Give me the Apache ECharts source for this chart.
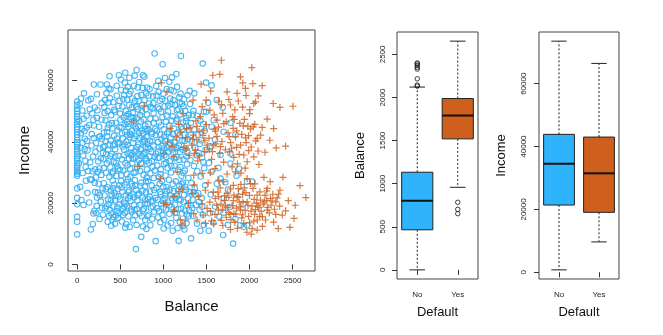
<!DOCTYPE html>
<html><head><meta charset="utf-8">
<script src="https://cdn.jsdelivr.net/npm/echarts@6/dist/echarts.min.js"></script>
<style>html,body{margin:0;padding:0;background:#fff}#c{width:663px;height:335px}</style>
</head><body><div id="c"></div>
<script>
// ---- data ----
const balanceTicks = [0, 500, 1000, 1500, 2000, 2500];
const incomeTicks = [0, 20000, 40000, 60000];
const defaultCategories = ['No', 'Yes'];

// scatter: non-defaulters [balance, income]
const noDefaultPoints = [
[0,9800],[0,13900],[0,15500],[0,19600],[0,21700],[0,24800],[0,28900],[0,29500],[0,30100],[0,30800],[0,31500],[0,32200],[0,33000],[0,33800],[0,34500],[0,35300],[0,36000],[0,36800],[0,37500],[0,38300],[0,39100],[0,39800],[0,40600],[0,41400],[0,42300],[0,43100],[0,44000],[0,44800],[0,45700],[0,46500],[0,47400],[0,48200],[0,49100],[0,50000],[0,50800],[0,52000],[0,53100],
[30,52400],[45,54100],[60,50200],[80,55800],[25,46800],[55,44200],[90,41000],[40,38000],[70,35500],[20,33000],[100,31800],[65,29800],[110,48500],[130,53500],[140,45500],[120,37200],[95,33800],[50,21000],[74,19400],[35,25300],[120,23300],[150,27800],[140,20200],[85,43500],[115,40300],[130,30500],
[159,11400],[182,13200],[190,16600],[201,17500],[221,16800],[209,23600],[240,23400],[194,58700],[271,58700],[160,54000],[175,49300],[205,51200],[230,47800],[255,44900],[170,42500],[220,39600],[260,37800],[185,35200],[245,33600],[210,31000],[280,29200],[265,41800],[195,45300],[285,52600],[230,55500],[250,26300],[275,20500],[290,18400],[230,21800],[260,14800],[295,24800],[170,27600],
[345,58700],[368,57400],[376,61400],[484,61700],[326,18300],[422,15500],[340,55800],[380,54200],[420,52900],[460,55000],[315,51300],[355,50000],[395,48700],[440,49800],[480,51700],[330,47000],[370,45600],[410,44300],[450,46200],[490,44800],[310,43000],[350,41700],[390,40400],[430,42000],[470,39800],[320,38600],[360,37300],[400,36000],[440,37600],[480,35400],[305,34300],[345,33000],[385,31700],[425,33500],[465,32000],[335,29900],[375,28600],[415,30300],[455,28900],[495,30800],[310,26500],[350,25200],[390,24000],[430,26000],[470,24600],[320,22500],[360,21200],[400,22800],[440,20900],[480,22200],[340,19000],[380,17800],[420,18900],[460,17400],[490,19600],[370,15800],[410,14600],[450,16000],[395,12600],[440,13300],[475,15200],[355,13900],[488,25800],[412,27400],[378,39100],[462,41100],[300,36400],[492,53300],[330,40200],
[508,60300],[558,62500],[690,63400],[589,57900],[558,12000],[682,5000],[510,57000],[545,55200],[580,53700],[620,56500],[660,58300],[700,54900],[525,51500],[565,50100],[605,52000],[645,49500],[685,51400],[540,47900],[580,46400],[620,48100],[660,46800],[695,47800],[515,44600],[555,43200],[595,44900],[635,43600],[675,45000],[530,41100],[570,40000],[610,41500],[650,39700],[690,41900],[545,37500],[585,36200],[625,38000],[665,36700],[700,38300],[520,34200],[560,33000],[600,34500],[640,33100],[680,34900],[535,30600],[575,29400],[615,31200],[655,29800],[695,31600],[510,27200],[550,26000],[590,27800],[630,26300],[670,27500],[525,23700],[565,22500],[605,24200],[645,22800],[685,24400],[540,20200],[580,19000],[620,20700],[660,19300],[700,20900],[555,16900],[595,15700],[635,17300],[675,16000],[520,14000],[570,13100],[610,12300],[650,14400],[690,12900],[598,45800],[612,42700],[587,39000],[628,35600],[572,48500],[641,54100],[555,59300],[606,60900],[668,61600],[533,18100],[593,21600],[674,25700],
[705,57700],[764,61700],[779,61200],[744,9000],[720,59500],[760,57600],[800,55800],[840,57200],[880,54800],[715,53300],[755,52000],[795,50600],[835,52500],[875,50900],[730,48700],[770,47300],[810,48900],[850,47500],[890,46200],[710,45000],[750,43600],[790,45300],[830,43900],[870,42600],[725,41200],[765,39900],[805,41600],[845,40300],[885,38800],[740,37600],[780,36400],[820,38100],[860,36800],[900,35100],[715,34100],[755,32800],[795,34600],[835,33200],[875,31800],[730,30500],[770,29200],[810,31000],[850,29700],[890,28200],[745,26700],[785,25400],[825,27100],[865,25800],[720,23100],[760,21800],[800,23500],[840,22100],[880,20800],[735,19400],[775,18200],[815,19900],[855,18500],[895,17200],[750,15700],[790,14500],[830,16200],[870,14900],[765,12400],[805,11600],[850,12800],[899,68800],[790,44100],[752,49900],[818,39300],[787,21100],[828,55100],[770,40800],[803,33800],
[942,59900],[992,65300],[946,56300],[911,7600],[1004,11700],[920,55100],[960,53400],[1000,55700],[1040,57200],[1080,54100],[935,51200],[975,49800],[1015,51500],[1055,49900],[1095,52300],[910,47600],[950,46300],[990,48000],[1030,46500],[1070,45200],[925,43600],[965,42300],[1005,44100],[1045,42700],[1085,41400],[940,39900],[980,38600],[1020,40300],[1060,38900],[1100,37500],[915,36100],[955,34800],[995,36500],[1035,35100],[1075,33700],[930,32300],[970,31000],[1010,32800],[1050,31400],[1090,30000],[945,28500],[985,27200],[1025,29000],[1065,27600],[920,24900],[960,23600],[1000,25300],[1040,23900],[1080,22500],[935,21100],[975,19800],[1015,21600],[1055,20200],[1095,18800],[950,17400],[990,16100],[1030,17900],[1070,16500],[965,13800],[1010,14600],[1050,12700],[1090,13500],[1109,11000],[1020,60800],[1070,59600],
[1151,62100],[1101,61000],[1205,68000],[1186,54500],[1178,7700],[1120,56500],[1160,57900],[1200,55700],[1240,53900],[1280,55200],[1135,52000],[1175,50600],[1215,52400],[1255,50100],[1295,48700],[1110,48300],[1150,46900],[1190,48800],[1230,46300],[1270,44900],[1125,44300],[1165,42900],[1205,44800],[1245,42300],[1285,40800],[1140,40100],[1180,38700],[1220,40400],[1260,37900],[1115,36400],[1155,35000],[1195,36700],[1235,34200],[1275,32700],[1130,32200],[1170,30900],[1210,28900],[1250,30600],[1290,28200],[1145,27100],[1185,25700],[1225,26700],[1265,24400],[1120,23900],[1160,22400],[1200,20900],[1240,22700],[1280,19300],[1135,19500],[1175,18000],[1215,16600],[1255,17500],[1295,15700],[1150,15200],[1190,13900],[1230,12500],[1270,13400],[1165,11800],[1322,8500],[1245,11400],
[1306,56600],[1360,55800],[1457,65500],[1496,59300],[1310,52300],[1350,50100],[1390,48500],[1430,46900],[1470,49800],[1320,46100],[1360,44000],[1400,42300],[1440,40500],[1480,43600],[1330,40200],[1370,38100],[1410,36400],[1450,34900],[1490,37300],[1315,34000],[1355,32100],[1395,30400],[1435,28700],[1475,31400],[1325,26600],[1365,24900],[1405,23300],[1445,21700],[1485,25800],[1340,21100],[1380,19400],[1420,17800],[1460,16200],[1300,17700],[1345,15900],[1390,13300],[1430,11000],[1470,12900],[1496,49800],[1461,45800],
[1527,11000],[1585,47100],[1663,35700],[1779,36200],[1663,28000],[1558,30200],[1779,32900],[1837,42400],[1779,46200],[1690,51200],[1849,28900],[1973,27000],[1903,23700],[1779,18800],[1837,14800],[1895,12800],[1934,12300],[1973,12800],[1694,9600],[1810,6800],[1520,52700],[1560,44900],[1540,38600],[1600,40700],[1530,33100],[1620,26300],[1550,22800],[1600,18900],[1650,15600],[1540,16700],[1580,13700],[1700,21500],[1720,26800],[1620,53600],[1700,43300],[1750,24400],[1880,31200],[1930,19700],[1560,58400],[1640,31500],[1750,12900],[1700,16900],[2031,27000],
[212,36700],[287,40900],[318,49400],[363,52800],[402,46100],[437,39300],[468,43700],[503,47200],[528,38400],[561,45700],[597,49100],[622,42300],[653,47800],[684,44300],[712,39100],[738,46600],[767,42800],[793,38200],[826,45800],[858,43100],[887,49400],[913,42100],[947,38200],[973,45300],[1008,41700],[1038,48600],[1067,43200],[1096,46900],[1127,39800],[1162,47500],[1193,42100],[1227,37400],[1263,46700],[1297,43900],
[243,30200],[276,34600],[309,31400],[337,36100],[371,33900],[408,29700],[443,35300],[476,31200],[512,29100],[547,35700],[583,32300],[617,28600],[648,34400],[679,30100],[709,36200],[741,33100],[772,35900],[808,28300],[839,35200],[868,33700],[902,30600],[937,34700],[968,29400],[1003,37800],[1033,33200],[1062,36800],[1093,32100],[1128,34600],[1167,37900],[1198,31800],[1232,29800],[1266,35300],
[226,19100],[262,22600],[298,16200],[331,24600],[366,19700],[397,16700],[433,23300],[467,18600],[499,21300],[531,16100],[563,19800],[591,23700],[627,17900],[661,21900],[694,18100],[723,16600],[758,24100],[786,19700],[817,15700],[846,23800],[877,18900],[906,21700],[941,15300],[971,22900],[1002,18500],[1036,25200],[1068,19300],[1103,21600],[1137,16900],[1171,24100],[1204,18200],[1238,20300],[1272,16300],[1303,23600],[1336,18400],[1374,22800],[1412,20400],[1452,18800],
[283,47200],[324,53600],[356,44600],[388,57100],[431,50400],[459,58300],[497,49200],[536,53900],[567,56700],[603,55600],[638,51300],[672,53400],[707,50600],[746,55300],[781,53600],[813,57700],[852,51400],[884,52600],[918,58200],[952,50700],[988,53900],[1022,53400],[1058,51800],[1087,56900],[1118,53600],[1157,50300],[1192,52700],[1233,51600],[1268,47800],[1342,48900],
[392,20900],[418,24900],[447,22400],[479,16700],[516,25100],[548,18900],[572,26800],[613,22300],[641,25500],[668,17800],[703,22600],[733,25600],[762,17600],[797,27100],[824,21300],[862,20600],[893,24300],[927,18300],[958,26400],[994,20900],[1027,22800],[1074,24300],[1109,26200],[1142,21700],[1183,21300],[1213,26100],[1252,25300],[1287,21500],[1318,19400],[1353,23600],
[218,28400],[253,41500],[302,38300],[347,43200],[386,35200],[418,38800],[451,33100],[486,39400],[519,42800],[551,39100],[582,42200],[619,36400],[657,41100],[688,37100],[719,42900],[749,35400],[784,40300],[812,43600],[843,37700],[873,40100],[907,44200],[938,36800],[979,40800],[1012,35700],[1043,38100],[1079,39600],[1112,42500],[1146,38300],[1187,34100],[1219,44100],[1248,40300],[1281,36600],[1318,42200],[1383,35600],[1423,39300],[1463,33400],
[152,33300],[168,38800],[188,47200],[205,26600],[236,50300],[258,31300],[192,41200],[178,30400],[147,50600],[112,44700],[88,37600],[62,39700],[75,47500],[102,27300],[43,42800]
];

// scatter: defaulters [balance, income]
const defaultPoints = [
[1674,66600],[2027,64200],[1574,61700],[1655,62000],[1438,58800],[1550,56500],[1922,59200],[1895,61200],[1953,57400],[2039,59000],[2147,58300],[1740,56300],[1856,55800],[1043,56300],[977,59200],[1345,53600],[1496,53600],[1643,53300],[1779,52000],[2050,52500],[2070,53000],[2275,52500],[2353,51200],[2504,51600],[2004,50500],[2205,47400],[1981,45100],[2147,44700],[2043,44900],[1888,46000],[1605,43500],[1469,43800],[1624,47100],[1430,48200],[1806,48200],[2419,38600],[2236,40500],[2089,41100],[1961,39700],[1837,41600],[1508,38900],[1372,37300],[1101,38400],[1120,35100],[1004,36200],[1364,36200],[1585,38900],[1663,38400],[1818,34900],[1934,35700],[2050,35100],[1973,33500],[1798,31800],[1837,30200],[1450,29700],[1547,29900],[1353,29100],[1643,27500],[1973,28000],[2012,26400],[2167,28400],[2388,28400],[2585,25700],[2654,21800],
[2353,24200],[2205,24800],[2128,21000],[2244,21500],[2306,20400],[2089,22600],[1973,20400],[1856,22100],[1740,23200],[1643,22100],[1488,24200],[1333,23200],[1120,22100],[1004,19900],[2419,17500],[2516,15000],[2469,12100],[2333,11700],[2186,14500],[2050,14100],[2031,11700],[2020,9900],[2089,11200],[1934,13400],[1779,11400],[1585,13200],[1488,13400],[1391,14500],[1256,14500],[1217,12800],[1120,17200],[1353,16600],[1508,18300],[1818,16600],[1895,17700],[2070,17900],[2205,17700],
[1310,44500],[1350,42200],[1390,40600],[1420,35300],[1460,42100],[1500,45600],[1530,41200],[1570,36800],[1610,39300],[1640,44800],[1680,40100],[1720,37400],[1750,42900],[1780,39700],[1810,44400],[1850,38200],[1880,35900],[1910,42400],[1940,47300],[1990,42000],[2020,38300],[2060,45700],[2100,37000],[2130,42200],[1540,50300],[1590,48800],[1690,49300],[1730,46500],[1760,53800],[1830,50400],[1870,53300],[1920,51300],[1960,55100],[2000,49200],[2100,55000],[1450,51500],[1390,45000],[1270,44300],[1230,49200],[1180,45700],[1270,37700],[1330,38900],[1400,33800],[1480,36800],[1560,34300],[1600,31300],[1700,33400],[1740,29500],[1770,36700],[1860,32800],[1900,29800],[1950,31400],[2110,32600],[2180,36600],[2280,44300],[2310,38000],[1990,37100],
[1540,20300],[1580,23600],[1620,19300],[1660,25000],[1690,18000],[1710,20900],[1730,15400],[1760,21900],[1780,24600],[1800,19200],[1830,13700],[1850,18400],[1870,24700],[1880,20400],[1910,15200],[1920,22900],[1950,17700],[1990,15700],[2000,22500],[2030,19000],[2040,24800],[2060,16300],[2080,20000],[2110,18600],[2120,23700],[2150,15500],[2160,19700],[2180,22500],[2200,20900],[2230,16800],[2250,19300],[2270,22900],[2290,18000],[2320,21700],[2350,19000],[2380,16100],[2280,13800],[2150,12400],[1970,10500],[1860,11800],[1690,12700],[1600,16300],[1450,19800],[1410,22100],[1290,19900],[1360,26000],[1520,26600],[1700,27000],[1900,26100],[2240,27000],[2450,20800],[2530,19300],[1560,14200],[1640,17700],[1760,17000],[1820,22600],[1940,25000],[2090,14500],[2200,24000],[1720,19200],
[655,46500],[779,51700],[702,31900],[965,28000],[1198,14500],[1128,17500],[1080,44400],[1050,40000],[1150,41600],[1200,43200],[1240,38200],[1260,41300],[1300,35600],[1160,30200],[1220,24500],[1040,19600],[1180,23800],
[1622,41800],[1655,36200],[1702,45900],[1765,41700],[1793,37900],[1823,47300],[1852,43600],[1897,38900],[1928,45200],[1955,41300],[2012,44200],[2072,40300],[1675,52100],[1598,44200],[1532,37400],[1482,40500],[1415,43400],[1378,46800],[1340,40900],
[1602,21500],[1633,23600],[1668,19700],[1713,22400],[1742,18600],[1775,16300],[1812,20800],[1842,16400],[1868,21900],[1893,18800],[1925,20300],[1958,23400],[1983,19300],[2018,17400],[2055,21200],[2097,19200],[2135,17300],[2172,20400],[2212,18600],[2263,20700],[2305,16300],[2338,22900],[1784,14600],[1921,16200],[2002,13600],[2118,15700],[1672,14400],[1548,17300],[1461,16100],[1812,25800],[2062,26300]
];

// box plot statistics: [lower whisker, Q1, median, Q3, upper whisker]
const balanceBoxNo = [0, 465, 802, 1133, 2121];
const balanceBoxYes = [958, 1520, 1791, 1988, 2654];
const balanceOutliersNo = [2400, 2390, 2372, 2350, 2330, 2217, 2144, 2132];
const balanceOutliersYes = [784, 702, 652];
const incomeBoxNo = [772, 21400, 34540, 43890, 73554];
const incomeBoxYes = [9664, 19080, 31490, 43030, 66466];

// ---- styles ----
const BLUE = '#2fb3fc';
const ORANGE = '#cf5f1c';
const FONT = 'Liberation Sans, Arial, Helvetica, sans-serif';
const frame = {show: true, borderColor: '#444', borderWidth: 1, backgroundColor: 'transparent', outerBoundsMode: 'none'};

function boxRender(fills) {
  return function (params, api) {
    const c = api.value(0);
    const band = api.size([1, 0])[0];
    const bw = band * 0.77;
    const half = bw / 2;
    const cap = bw / 4;
    const x = api.coord([c, api.value(3)])[0];
    const y = i => api.coord([c, api.value(i)])[1];
    const yLo = y(1), yQ1 = y(2), yMed = y(3), yQ3 = y(4), yHi = y(5);
    const dash = {stroke: '#222', lineWidth: 1, lineDash: [2, 2]};
    const solid = {stroke: '#222', lineWidth: 1};
    return {type: 'group', children: [
      {type: 'line', shape: {x1: x, y1: yQ3, x2: x, y2: yHi}, style: dash},
      {type: 'line', shape: {x1: x, y1: yQ1, x2: x, y2: yLo}, style: dash},
      {type: 'line', shape: {x1: x - cap, y1: yHi, x2: x + cap, y2: yHi}, style: solid},
      {type: 'line', shape: {x1: x - cap, y1: yLo, x2: x + cap, y2: yLo}, style: solid},
      {type: 'rect', shape: {x: x - half, y: yQ3, width: bw, height: yQ1 - yQ3}, style: {fill: fills[params.dataIndex], stroke: '#222', lineWidth: 1}},
      {type: 'line', shape: {x1: x - half, y1: yMed, x2: x + half, y2: yMed}, style: {stroke: '#111', lineWidth: 2}}
    ]};
  };
}

const plain = v => String(v);
const tickLabel = {fontSize: 8, color: '#222', fontFamily: FONT};
function yAxisDef(grid, min, max, ticks, name, gap, margin, nameSize) {
  return {
    type: 'value', gridIndex: grid, min: min, max: max,
    axisLine: {show: false}, splitLine: {show: false},
    axisTick: {show: true, length: 5, customValues: ticks, lineStyle: {color: '#333'}},
    axisLabel: Object.assign({customValues: ticks, rotate: 90, margin: margin, formatter: plain}, tickLabel),
    name: name, nameLocation: 'middle', nameGap: gap, nameRotate: 90,
    nameTextStyle: {fontSize: nameSize, color: '#111', fontFamily: FONT}
  };
}

const chart = echarts.init(document.getElementById('c'), null, {renderer: 'canvas'});
chart.setOption({
  animation: false,
  backgroundColor: '#fff',
  textStyle: {fontFamily: FONT},
  grid: [
    Object.assign({left: 68, top: 30, width: 247, height: 241}, frame),
    Object.assign({left: 397, top: 32, width: 81, height: 247}, frame),
    Object.assign({left: 539, top: 32, width: 80, height: 247}, frame)
  ],
  xAxis: [
    {type: 'value', gridIndex: 0, min: -106, max: 2760,
     axisLine: {show: false}, splitLine: {show: false},
     axisTick: {show: true, length: 5, customValues: balanceTicks, lineStyle: {color: '#333'}},
     axisLabel: Object.assign({customValues: balanceTicks, margin: 6, formatter: plain}, tickLabel),
     name: 'Balance', nameLocation: 'middle', nameGap: 28,
     nameTextStyle: {fontSize: 15, color: '#111', fontFamily: FONT}},
    {type: 'category', gridIndex: 1, data: defaultCategories,
     axisLine: {show: false}, splitLine: {show: false},
     axisTick: {show: true, length: 5, alignWithLabel: true, lineStyle: {color: '#333'}},
     axisLabel: Object.assign({margin: 12}, tickLabel),
     name: 'Default', nameLocation: 'middle', nameGap: 27,
     nameTextStyle: {fontSize: 13, color: '#111', fontFamily: FONT}},
    {type: 'category', gridIndex: 2, data: defaultCategories,
     axisLine: {show: false}, splitLine: {show: false},
     axisTick: {show: true, length: 5, alignWithLabel: true, lineStyle: {color: '#333'}},
     axisLabel: Object.assign({margin: 12}, tickLabel),
     name: 'Default', nameLocation: 'middle', nameGap: 27,
     nameTextStyle: {fontSize: 13, color: '#111', fontFamily: FONT}}
  ],
  yAxis: [
    yAxisDef(0, -2139, 76465, incomeTicks, 'Income', 36, 13, 15),
    yAxisDef(1, -106, 2760, balanceTicks, 'Balance', 30, 10, 13),
    yAxisDef(2, -2139, 76465, incomeTicks, 'Income', 31, 11, 13)
  ],
  series: [
    {type: 'scatter', xAxisIndex: 0, yAxisIndex: 0, data: noDefaultPoints,
     symbol: 'circle', symbolSize: 5.5,
     itemStyle: {color: 'transparent', borderColor: '#3aaff0', borderWidth: 1.1, opacity: 0.9}},
    {type: 'scatter', xAxisIndex: 0, yAxisIndex: 0, data: defaultPoints,
     symbol: 'path://M0,5L10,5M5,0L5,10', symbolSize: 7,
     itemStyle: {color: 'transparent', borderColor: '#d0621f', borderWidth: 1.2, opacity: 0.85}},
    {type: 'custom', xAxisIndex: 1, yAxisIndex: 1,
     renderItem: boxRender([BLUE, ORANGE]),
     data: [[0].concat(balanceBoxNo), [1].concat(balanceBoxYes)]},
    {type: 'scatter', xAxisIndex: 1, yAxisIndex: 1, symbol: 'circle', symbolSize: 4.5,
     itemStyle: {color: 'transparent', borderColor: '#111', borderWidth: 1},
     data: balanceOutliersNo.map(v => [0, v]).concat(balanceOutliersYes.map(v => [1, v]))},
    {type: 'custom', xAxisIndex: 2, yAxisIndex: 2,
     renderItem: boxRender([BLUE, ORANGE]),
     data: [[0].concat(incomeBoxNo), [1].concat(incomeBoxYes)]}
  ]
});
</script></body></html>
